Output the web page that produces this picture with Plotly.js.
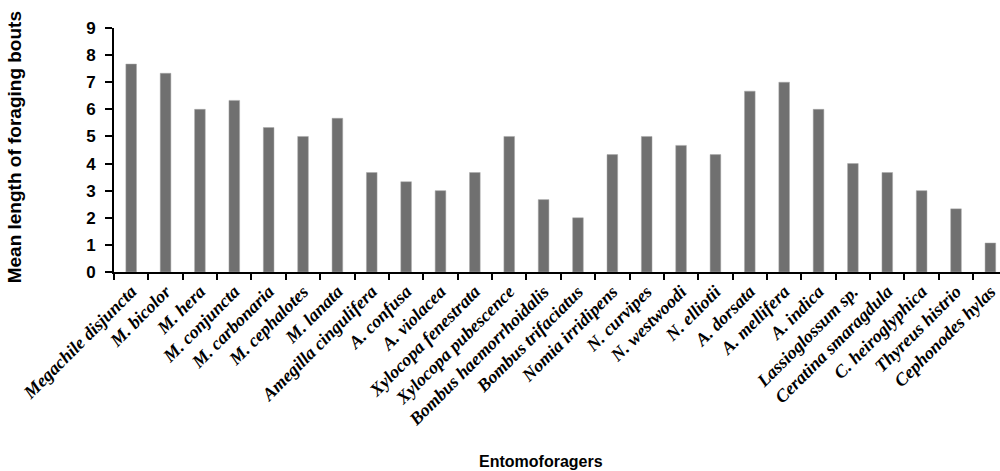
<!DOCTYPE html>
<html><head><meta charset="utf-8">
<script src="https://cdn.plot.ly/plotly-3.0.1.min.js"></script>
<style>html,body{margin:0;padding:0;background:#fff}#chart{width:1000px;height:471px}</style>
</head><body><div id="chart"></div>
<script>
const species = ["Megachile disjuncta","M. bicolor","M. hera","M. conjuncta","M. carbonaria","M. cephalotes","M. lanata","Amegilla cingulifera","A. confusa","A. violacea","Xylocopa fenestrata","Xylocopa pubescence","Bombus haemorrhoidalis","Bombus trifaciatus","Nomia irridipens","N. curvipes","N. westwoodi","N. elliotii","A. dorsata","A. mellifera","A. indica","Lassioglossum sp.","Ceratina smaragdula","C. heiroglyphica","Thyreus histrio","Cephonodes hylas"];
const boutLength = [7.67,7.33,6.0,6.33,5.33,5.0,5.67,3.67,3.33,3.0,3.67,5.0,2.67,2.0,4.33,5.0,4.67,4.33,6.67,7.0,6.0,4.0,3.67,3.0,2.33,1.07];
const yTicks = [0,1,2,3,4,5,6,7,8,9];

const tickLabels = species.map(s => '<b><i>' + s + '</i></b>');

const data = [{
  type: 'bar',
  x: species,
  y: boutLength,
  width: 0.31,
  marker: {color: '#707070', line: {color: '#a8a8a8', width: 0.5}},
  hoverinfo: 'x+y'
}];

const layout = {
  width: 1000, height: 471,
  margin: {l: 114, r: 0, t: 28, b: 199},
  paper_bgcolor: '#fff', plot_bgcolor: '#fff',
  showlegend: false,
  xaxis: {
    type: 'category',
    range: [-0.5, 25.28],
    tickmode: 'array', tickvals: species, ticktext: tickLabels,
    tickangle: -45,
    tickson: 'boundaries',
    ticks: 'outside', ticklen: 6, tickwidth: 2, tickcolor: '#000',
    showline: true, linecolor: '#000', linewidth: 2,
    showgrid: false, zeroline: false,
    tickfont: {family: 'Liberation Serif, Times New Roman, serif', size: 18, color: '#000'}
  },
  yaxis: {
    range: [0, 9],
    tickmode: 'array', tickvals: yTicks,
    ticks: 'outside', ticklen: 7, tickwidth: 2, tickcolor: '#000',
    ticklabelstandoff: 6,
    showline: true, linecolor: '#000', linewidth: 2,
    showgrid: false, zeroline: false,
    tickfont: {family: 'Liberation Sans, Arial, sans-serif', size: 17, color: '#000', weight: 'bold'}
  },
  annotations: [
    {text: '<b>Mean length of foraging bouts</b>', xref: 'paper', yref: 'paper', x: -0.112, y: 0.51,
     xanchor: 'center', yanchor: 'middle', textangle: -90, showarrow: false,
     font: {family: 'Liberation Sans, Arial, sans-serif', size: 19, color: '#000'}},
    {text: '<b>Entomoforagers</b>', xref: 'paper', yref: 'paper', x: (541 - 114) / 886, y: -0.778,
     xanchor: 'center', yanchor: 'middle', showarrow: false,
     font: {family: 'Liberation Sans, Arial, sans-serif', size: 16, color: '#000'}}
  ]
};

Plotly.newPlot('chart', data, layout, {displayModeBar: false, staticPlot: true});
</script></body></html>
